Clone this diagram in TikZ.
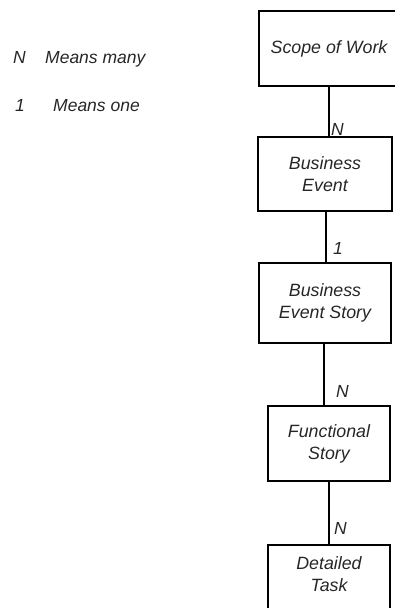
\documentclass[tikz,border=0pt]{standalone}
\usepackage{fontspec}
\setmainfont{Liberation Sans}
\begin{document}
\begin{tikzpicture}[x=1pt,y=-1pt,
  box/.style={draw=black, line width=2pt, inner sep=0pt, align=center,
    font=\fontsize{17.8}{22}\selectfont\itshape, text=black!85},
  txt/.style={inner sep=0pt, align=center, font=\fontsize{17.8}{22}\selectfont\itshape, text=black!85},
  lab/.style={inner sep=0pt, anchor=base west, font=\fontsize{17.5}{20}\selectfont\itshape, text=black!85},
  conn/.style={line width=2pt, black}]
\useasboundingbox (0,0) rectangle (394,608);
% boxes
\node[box, minimum width=140pt, minimum height=75pt] (b1) at (329,48.5) {Scope of Work};
\node[box, minimum width=134pt, minimum height=74pt] (b2) at (325,174) {Business\\Event};
\node[box, minimum width=132pt, minimum height=80pt] (b3) at (325,303) {Business\\Event Story};
\node[box, minimum width=122pt, minimum height=75pt] (b4) at (329,443.5) {Functional\\Story};
\node[box, minimum width=122pt, minimum height=80pt] (b5) at (329,585) {};
\node[txt] (t5) at (329,574.5) {Detailed\\Task};
% connectors
\draw[conn] (b1.south) -- (b1.south |- b2.north);
\draw[conn] ([xshift=1pt]b2.south) -- ([xshift=1pt]b2.south |- b3.north);
\draw[conn] ([xshift=-1pt]b3.south) -- ([xshift=-1pt]b3.south |- b4.north);
\draw[conn] (b4.south) -- (b4.south |- b5.north);
% connector labels
\node[lab] (l1) at (331,135.5) {N};
\node[lab] (l2) at (333,254) {1};
\node[lab] (l3) at (336,397) {N};
\node[lab] (l4) at (334,534) {N};
% legend
\node[lab] (n) at (13,63.5) {N};
\node[lab] (nm) at (45,63.5) {Means many};
\node[lab] (o) at (15,111.5) {1};
\node[lab] (om) at (53,111.5) {Means one};
\end{tikzpicture}
\end{document}
